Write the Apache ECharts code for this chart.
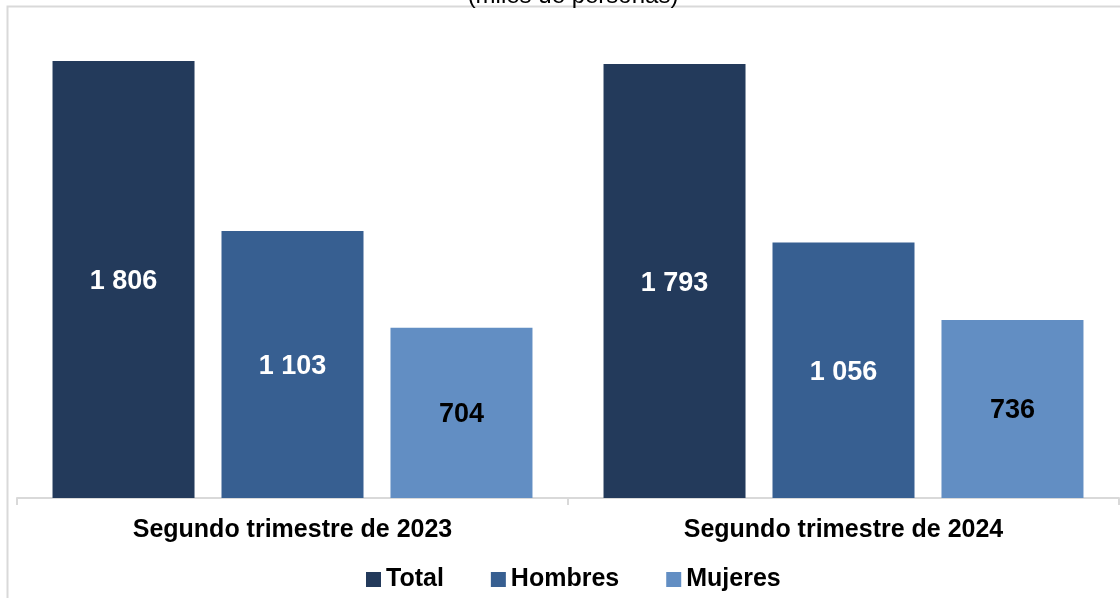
<!DOCTYPE html>
<html><head><meta charset="utf-8">
<style>html,body{margin:0;padding:0;background:#fff;}#c{width:1120px;height:598px;}</style>
<script src="https://cdn.jsdelivr.net/npm/echarts@6/dist/echarts.min.js"></script>
</head><body><div id="c"></div>
<script>
const categories = ['Segundo trimestre de 2023', 'Segundo trimestre de 2024'];
const seriesNames = ['Total', 'Hombres', 'Mujeres'];
const totalValues = [1806, 1793];
const hombresValues = [1103, 1056];
const mujeresValues = [704, 736];
const colors = ['#233A5B', '#375F91', '#628EC3'];
const labelColors = ['#ffffff', '#ffffff', '#000000'];
const dataSets = [totalValues, hombresValues, mujeresValues];

const chart = echarts.init(document.getElementById('c'));
const fmt = v => String(v).replace(/\B(?=(\d{3})+(?!\d))/g, ' ');
chart.setOption({
  animation: false,
  textStyle: {fontFamily: 'Liberation Sans, Arial, sans-serif'},
  graphic: [
    {type: 'rect', shape: {x: 7.5, y: 6.5, width: 1200, height: 700}, style: {fill: 'none', stroke: '#d9d9d9', lineWidth: 2}, silent: true},
    {type: 'text', x: 573, y: -16, style: {text: '(miles de personas)', fill: '#000', font: '24px Liberation Sans, Arial, sans-serif', textAlign: 'center', textVerticalAlign: 'top'}}
  ],
  legend: {
    data: seriesNames, bottom: 1, left: 361, itemWidth: 15, itemHeight: 15, itemGap: 47,
    icon: 'rect',
    textStyle: {fontSize: 25, fontWeight: 'bold', color: '#000', fontFamily: 'Liberation Sans, Arial, sans-serif'}
  },
  grid: {left: 17, right: 1, top: 14, bottom: 100, containLabel: false},
  xAxis: {
    type: 'category', data: categories,
    axisLine: {lineStyle: {color: '#d9d9d9', width: 2}},
    axisTick: {show: true, length: 7, lineStyle: {color: '#d9d9d9', width: 2}},
    axisLabel: {fontSize: 25, fontWeight: 'bold', color: '#000', margin: 20, fontFamily: 'Liberation Sans, Arial, sans-serif'}
  },
  yAxis: {type: 'value', min: 0, max: 2000, show: false, splitLine: {show: false}},
  series: seriesNames.map((n, i) => ({
    name: n, type: 'bar', data: dataSets[i], barWidth: 142, barGap: '19%',
    itemStyle: {color: colors[i]},
    label: {show: true, position: 'inside', offset: [0, 2], formatter: p => fmt(p.value), color: labelColors[i], fontSize: 27, fontWeight: 'bold', fontFamily: 'Liberation Sans, Arial, sans-serif'}
  }))
});
</script></body></html>
